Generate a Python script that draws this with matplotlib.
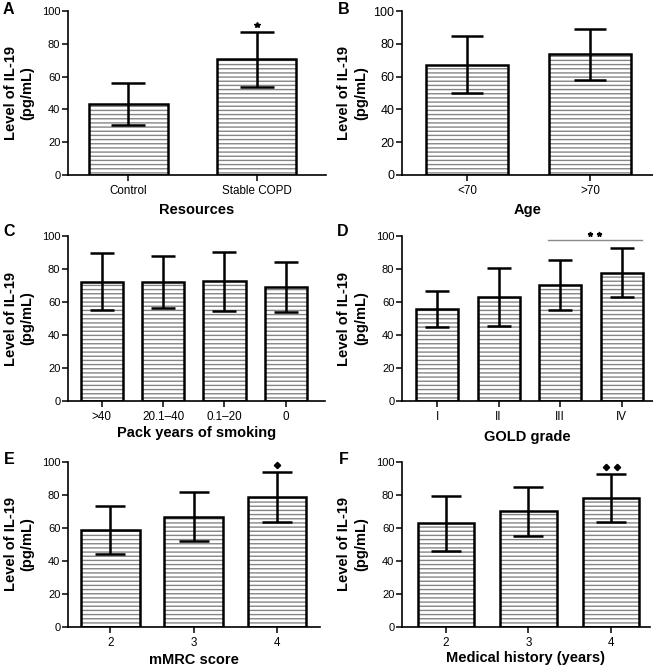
import matplotlib
matplotlib.use('Agg')
import matplotlib.pyplot as plt

plt.rcParams['font.family'] = ['Liberation Sans', 'DejaVu Sans']

W, H = 653, 669

# panel data (mean, SD)
res_labels = ['Control', 'Stable COPD']
res_mean = [43.3, 70.5]
res_sd = [12.7, 16.6]

age_labels = ['<70', '>70']
age_mean = [67.3, 73.6]
age_sd = [17.2, 15.6]

smoke_labels = ['>40', '20.1\u201340', '0.1\u201320', '0']
smoke_mean = [72.3, 72.1, 72.5, 69.1]
smoke_sd = [17.2, 16.0, 17.9, 15.0]

gold_labels = ['I', 'II', 'III', 'IV']
gold_mean = [55.6, 63.0, 70.1, 77.8]
gold_sd = [11.0, 17.4, 15.1, 14.8]

mmrc_labels = ['2', '3', '4']
mmrc_mean = [58.8, 66.7, 78.6]
mmrc_sd = [14.5, 15.0, 15.1]

hist_labels = ['2', '3', '4']
hist_mean = [62.6, 69.9, 78.0]
hist_sd = [16.5, 14.8, 14.6]

fig = plt.figure(figsize=(W / 100, H / 100), dpi=100)


def make_axes(x0, x1, y0, y1):
    # pixel box -> figure fraction
    return fig.add_axes([x0 / W, 1 - y1 / H, (x1 - x0) / W, (y1 - y0) / H])


def panel(box, letter, labels, mean, sd, xlabel, xlim, width, capsize,
          ylab_x, letter_xy, xlab_y, ytick_size=8):
    ax = make_axes(*box)
    x = list(range(len(labels)))
    ax.bar(x, mean, width, color='white', hatch='----', edgecolor='#858585',
           linewidth=0, zorder=2)
    ax.bar(x, mean, width, fill=False, edgecolor='black', linewidth=1.8, zorder=3)
    ax.errorbar(x, mean, yerr=sd, fmt='none', ecolor='black', elinewidth=1.8,
                capsize=capsize, capthick=1.8, zorder=4, clip_on=False)
    ax.set_xlim(*xlim)
    ax.set_ylim(0, 100)
    ax.set_yticks([0, 20, 40, 60, 80, 100])
    ax.set_xticks(x)
    ax.set_xticklabels(labels, fontsize=8.4)
    ax.tick_params(axis='y', labelsize=ytick_size, length=4, width=1.1, pad=1.5)
    ax.tick_params(axis='x', length=4, width=1.1, pad=3.5)
    for s in ['top', 'right']:
        ax.spines[s].set_visible(False)
    for s in ['left', 'bottom']:
        ax.spines[s].set_linewidth(1.2)
    cx = (box[0] + box[1]) / 2
    fig.text(cx / W, 1 - xlab_y / H, xlabel, ha='center', va='center',
             fontsize=10.5, fontweight='bold')
    fig.text(ylab_x / W, 1 - (box[2] + box[3]) / 2 / H, 'Level of IL-19\n(pg/mL)',
             rotation=90, ha='center', va='center', fontsize=10.5,
             fontweight='bold', linespacing=1.25, multialignment='center')
    fig.text(letter_xy[0] / W, 1 - letter_xy[1] / H, letter, ha='center',
             va='center', fontsize=11.5, fontweight='bold')
    return ax


axA = panel((68, 326, 11, 175), 'A', res_labels, res_mean, res_sd, 'Resources',
            (-0.47, 1.54), 0.62, 12, 19, (8.5, 10), 210)
axA.plot([1], [91.5], marker='*', ms=4, color='black', clip_on=False, zorder=5)

axB = panel((402, 653, 11, 175), 'B', age_labels, age_mean, age_sd, 'Age',
            (-0.53, 1.51), 0.67, 11.6, 352.5, (343.5, 10), 210, ytick_size=9)

axC = panel((68, 325, 236, 401), 'C', smoke_labels, smoke_mean, smoke_sd,
            'Pack years of smoking', (-0.55, 3.64), 0.69, 8.4, 19, (9, 232), 433)

axD = panel((402, 653, 236, 401), 'D', gold_labels, gold_mean, gold_sd,
            'GOLD grade', (-0.57, 3.51), 0.68, 8.4, 352.5, (343, 232), 437)
axD.plot([1.8, 3.33], [97.6, 97.6], color='#8a8a8a', lw=1.0, clip_on=False, zorder=5)
axD.plot([2.49, 2.64], [101, 101], ls='none', marker='*', ms=3.5, color='black',
         clip_on=False, zorder=5)

axE = panel((68, 320, 461.7, 626.7), 'E', mmrc_labels, mmrc_mean, mmrc_sd,
            'mMRC score', (-0.51, 2.52), 0.70, 10.8, 19, (9, 459), 660)
axE.plot([2], [98], marker='D', ms=3.2, color='black', clip_on=False, zorder=5)

axF = panel((402, 650, 461.7, 626.7), 'F', hist_labels, hist_mean, hist_sd,
            'Medical history (years)', (-0.53, 2.47), 0.68, 10.8, 352.5,
            (344, 459), 658)
axF.plot([1.94, 2.07], [97, 97], ls='none', marker='D', ms=3.2, color='black',
         clip_on=False, zorder=5)

fig.savefig('out.png', dpi=100)
